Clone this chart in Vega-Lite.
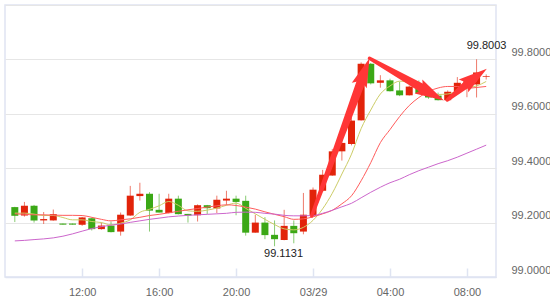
{
  "$schema": "https://vega.github.io/schema/vega-lite/v6.json",
  "width": 491,
  "height": 272,
  "autosize": {"type": "none"},
  "padding": {"left": 5, "top": 5, "right": 54, "bottom": 23},
  "background": "white",
  "config": {
    "view": {"stroke": "#dfe4f2", "strokeWidth": 1.5},
    "font": "Liberation Sans"
  },
  "datasets": {
    "candles": [
      {"t": "2024-03-28T08:30", "open": 99.257, "high": 99.258, "low": 99.202, "close": 99.225, "ma5": 99.2348, "ma10": 99.2323, "ma30": 99.1327},
      {"t": "2024-03-28T09:00", "open": 99.226, "high": 99.276, "low": 99.222, "close": 99.262, "ma5": 99.2348, "ma10": 99.2304, "ma30": 99.1346},
      {"t": "2024-03-28T09:30", "open": 99.262, "high": 99.265, "low": 99.2, "close": 99.208, "ma5": 99.2312, "ma10": 99.2286, "ma30": 99.1375},
      {"t": "2024-03-28T10:00", "open": 99.208, "high": 99.239, "low": 99.195, "close": 99.213, "ma5": 99.226, "ma10": 99.2286, "ma30": 99.1401},
      {"t": "2024-03-28T10:30", "open": 99.208, "high": 99.248, "low": 99.207, "close": 99.231, "ma5": 99.226, "ma10": 99.2275, "ma30": 99.1438},
      {"t": "2024-03-28T11:00", "open": 99.1965, "high": 99.1965, "low": 99.1925, "close": 99.1925, "ma5": 99.2186, "ma10": 99.2267, "ma30": 99.15},
      {"t": "2024-03-28T11:30", "open": 99.1965, "high": 99.1965, "low": 99.1925, "close": 99.1925, "ma5": 99.2101, "ma10": 99.2267, "ma30": 99.1585},
      {"t": "2024-03-28T12:00", "open": 99.192, "high": 99.221, "low": 99.188, "close": 99.219, "ma5": 99.2101, "ma10": 99.226, "ma30": 99.1685},
      {"t": "2024-03-28T12:30", "open": 99.216, "high": 99.219, "low": 99.171, "close": 99.176, "ma5": 99.2039, "ma10": 99.2194, "ma30": 99.1781},
      {"t": "2024-03-28T13:00", "open": 99.176, "high": 99.2, "low": 99.174, "close": 99.189, "ma5": 99.2002, "ma10": 99.212, "ma30": 99.1851},
      {"t": "2024-03-28T13:30", "open": 99.189, "high": 99.204, "low": 99.164, "close": 99.165, "ma5": 99.1917, "ma10": 99.2064, "ma30": 99.1906},
      {"t": "2024-03-28T14:00", "open": 99.167, "high": 99.237, "low": 99.152, "close": 99.229, "ma5": 99.198, "ma10": 99.2101, "ma30": 99.1947},
      {"t": "2024-03-28T14:30", "open": 99.226, "high": 99.335, "low": 99.225, "close": 99.299, "ma5": 99.2101, "ma10": 99.2138, "ma30": 99.2009},
      {"t": "2024-03-28T15:00", "open": 99.2975, "high": 99.3465, "low": 99.281, "close": 99.306, "ma5": 99.2378, "ma10": 99.2194, "ma30": 99.2064},
      {"t": "2024-03-28T15:30", "open": 99.306, "high": 99.312, "low": 99.167, "close": 99.244, "ma5": 99.2488, "ma10": 99.226, "ma30": 99.212},
      {"t": "2024-03-28T16:00", "open": 99.247, "high": 99.306, "low": 99.237, "close": 99.237, "ma5": 99.2618, "ma10": 99.2304, "ma30": 99.2164},
      {"t": "2024-03-28T16:30", "open": 99.235, "high": 99.306, "low": 99.234, "close": 99.288, "ma5": 99.2776, "ma10": 99.2359, "ma30": 99.2212},
      {"t": "2024-03-28T17:00", "open": 99.288, "high": 99.299, "low": 99.23, "close": 99.231, "ma5": 99.2636, "ma10": 99.2415, "ma30": 99.2241},
      {"t": "2024-03-28T17:30", "open": 99.232, "high": 99.232, "low": 99.2, "close": 99.226, "ma5": 99.2433, "ma10": 99.247, "ma30": 99.2267},
      {"t": "2024-03-28T18:00", "open": 99.227, "high": 99.267, "low": 99.204, "close": 99.264, "ma5": 99.2415, "ma10": 99.2518, "ma30": 99.2286},
      {"t": "2024-03-28T18:30", "open": 99.264, "high": 99.265, "low": 99.231, "close": 99.253, "ma5": 99.2459, "ma10": 99.257, "ma30": 99.2304},
      {"t": "2024-03-28T19:00", "open": 99.252, "high": 99.299, "low": 99.235, "close": 99.284, "ma5": 99.2533, "ma10": 99.2618, "ma30": 99.2323},
      {"t": "2024-03-28T19:30", "open": 99.281, "high": 99.317, "low": 99.264, "close": 99.288, "ma5": 99.2636, "ma10": 99.2654, "ma30": 99.2341},
      {"t": "2024-03-28T20:00", "open": 99.288, "high": 99.299, "low": 99.227, "close": 99.276, "ma5": 99.2717, "ma10": 99.2629, "ma30": 99.2378},
      {"t": "2024-03-28T20:30", "open": 99.28, "high": 99.299, "low": 99.152, "close": 99.163, "ma5": 99.2525, "ma10": 99.257, "ma30": 99.2385},
      {"t": "2024-03-28T21:00", "open": 99.163, "high": 99.229, "low": 99.163, "close": 99.2, "ma5": 99.2323, "ma10": 99.2496, "ma30": 99.2378},
      {"t": "2024-03-28T21:30", "open": 99.2, "high": 99.22, "low": 99.139, "close": 99.154, "ma5": 99.212, "ma10": 99.2396, "ma30": 99.2341},
      {"t": "2024-03-28T22:00", "open": 99.155, "high": 99.208, "low": 99.1131, "close": 99.139, "ma5": 99.1928, "ma10": 99.2304, "ma30": 99.2312},
      {"t": "2024-03-28T22:30", "open": 99.136, "high": 99.247, "low": 99.135, "close": 99.188, "ma5": 99.177, "ma10": 99.2219, "ma30": 99.2267},
      {"t": "2024-03-28T23:00", "open": 99.188, "high": 99.208, "low": 99.124, "close": 99.161, "ma5": 99.1733, "ma10": 99.212, "ma30": 99.2249},
      {"t": "2024-03-28T23:30", "open": 99.167, "high": 99.309, "low": 99.157, "close": 99.229, "ma5": 99.1825, "ma10": 99.2138, "ma30": 99.2249},
      {"t": "2024-03-29T00:00", "open": 99.225, "high": 99.329, "low": 99.225, "close": 99.321, "ma5": 99.2083, "ma10": 99.2212, "ma30": 99.226},
      {"t": "2024-03-29T00:30", "open": 99.317, "high": 99.394, "low": 99.312, "close": 99.376, "ma5": 99.2507, "ma10": 99.2323, "ma30": 99.2341},
      {"t": "2024-03-29T01:00", "open": 99.373, "high": 99.471, "low": 99.372, "close": 99.462, "ma5": 99.3078, "ma10": 99.2452, "ma30": 99.2452},
      {"t": "2024-03-29T01:30", "open": 99.462, "high": 99.514, "low": 99.428, "close": 99.493, "ma5": 99.3786, "ma10": 99.2691, "ma30": 99.2581},
      {"t": "2024-03-29T02:00", "open": 99.489, "high": 99.597, "low": 99.484, "close": 99.575, "ma5": 99.4516, "ma10": 99.2986, "ma30": 99.271},
      {"t": "2024-03-29T02:30", "open": 99.576, "high": 99.789, "low": 99.575, "close": 99.784, "ma5": 99.5456, "ma10": 99.3539, "ma30": 99.2912},
      {"t": "2024-03-29T03:00", "open": 99.784, "high": 99.787, "low": 99.708, "close": 99.712, "ma5": 99.6138, "ma10": 99.4203, "ma30": 99.3115},
      {"t": "2024-03-29T03:30", "open": 99.714, "high": 99.742, "low": 99.696, "close": 99.723, "ma5": 99.6728, "ma10": 99.494, "ma30": 99.33},
      {"t": "2024-03-29T04:00", "open": 99.723, "high": 99.729, "low": 99.682, "close": 99.683, "ma5": 99.7023, "ma10": 99.5419, "ma30": 99.3465},
      {"t": "2024-03-29T04:30", "open": 99.686, "high": 99.718, "low": 99.665, "close": 99.668, "ma5": 99.72, "ma10": 99.5899, "ma30": 99.3594},
      {"t": "2024-03-29T05:00", "open": 99.668, "high": 99.704, "low": 99.667, "close": 99.7, "ma5": 99.7141, "ma10": 99.6304, "ma30": 99.376},
      {"t": "2024-03-29T05:30", "open": 99.702, "high": 99.723, "low": 99.675, "close": 99.676, "ma5": 99.6957, "ma10": 99.6599, "ma30": 99.3908},
      {"t": "2024-03-29T06:00", "open": 99.677, "high": 99.69, "low": 99.655, "close": 99.66, "ma5": 99.6831, "ma10": 99.682, "ma30": 99.4037},
      {"t": "2024-03-29T06:30", "open": 99.667, "high": 99.678, "low": 99.649, "close": 99.65, "ma5": 99.671, "ma10": 99.6949, "ma30": 99.4166},
      {"t": "2024-03-29T07:00", "open": 99.65, "high": 99.686, "low": 99.649, "close": 99.681, "ma5": 99.6728, "ma10": 99.7005, "ma30": 99.4276},
      {"t": "2024-03-29T07:30", "open": 99.683, "high": 99.735, "low": 99.682, "close": 99.714, "ma5": 99.6831, "ma10": 99.7005, "ma30": 99.4406},
      {"t": "2024-03-29T08:00", "open": 99.696, "high": 99.735, "low": 99.661, "close": 99.726, "ma5": 99.6949, "ma10": 99.694, "ma30": 99.4553},
      {"t": "2024-03-29T08:30", "open": 99.708, "high": 99.8003, "low": 99.66, "close": 99.752, "ma5": 99.7023, "ma10": 99.6968, "ma30": 99.47},
      {"t": "2024-03-29T09:00", "open": 99.7355, "high": 99.745, "low": 99.726, "close": 99.738, "ma5": 99.7189, "ma10": 99.7005, "ma30": 99.4848}
    ],
    "arrows": [
      {"arrow": "a1", "t": "2024-03-28T23:56", "v": 99.2249, "end": 0},
      {"arrow": "a1", "t": "2024-03-29T02:35", "v": 99.7347, "end": 1},
      {"arrow": "a2", "t": "2024-03-29T02:56", "v": 99.804, "end": 0},
      {"arrow": "a2", "t": "2024-03-29T05:55", "v": 99.6846, "end": 1},
      {"arrow": "a3", "t": "2024-03-29T06:58", "v": 99.6507, "end": 0},
      {"arrow": "a3", "t": "2024-03-29T08:18", "v": 99.7263, "end": 1}
    ],
    "heads": [
      {"arrow": "a1", "t": "2024-03-29T02:56", "v": 99.804},
      {"arrow": "a2", "t": "2024-03-29T06:48", "v": 99.6489},
      {"arrow": "a3", "t": "2024-03-29T09:02", "v": 99.7657}
    ],
    "extremes": [
      {"kind": "max", "t": "2024-03-29T08:30", "v": 99.8003, "label": "99.8003"},
      {"kind": "min", "t": "2024-03-28T22:00", "v": 99.1131, "label": "99.1131"}
    ]
  },
  "encoding": {
    "x": {
      "field": "t",
      "type": "temporal",
      "title": null,
      "scale": {
        "domain": [
          {"year": 2024, "month": 3, "date": 28, "hours": 8, "minutes": 15},
          {"year": 2024, "month": 3, "date": 29, "hours": 9, "minutes": 15}
        ]
      },
      "axis": {
        "values": [
          {"year": 2024, "month": 3, "date": 28, "hours": 12},
          {"year": 2024, "month": 3, "date": 28, "hours": 16},
          {"year": 2024, "month": 3, "date": 28, "hours": 20},
          {"year": 2024, "month": 3, "date": 29, "hours": 0},
          {"year": 2024, "month": 3, "date": 29, "hours": 4},
          {"year": 2024, "month": 3, "date": 29, "hours": 8}
        ],
        "labelExpr": "hours(datum.value) == 0 ? timeFormat(datum.value, '%m/%d') : timeFormat(datum.value, '%H:%M')",
        "title": null,
        "grid": false,
        "domain": true,
        "domainColor": "#dfe4f2",
        "domainWidth": 1.5,
        "ticks": true,
        "tickColor": "#dfe4f2",
        "tickSize": -9,
        "tickWidth": 1.5,
        "labelPadding": 18,
        "labelFontSize": 11,
        "labelColor": "#666666",
        "labelFlush": false,
        "labelOverlap": false
      }
    }
  },
  "layer": [
    {
      "data": {"name": "candles"},
      "mark": {"type": "rule", "strokeWidth": 1, "opacity": 0.6},
      "encoding": {
        "y": {
          "field": "low",
          "type": "quantitative",
          "title": null,
          "scale": {"domain": [99, 100], "nice": false, "zero": false},
          "axis": {
            "orient": "right",
            "values": [99, 99.2, 99.4, 99.6, 99.8, 100],
            "labelExpr": "datum.value >= 99.99 ? '' : format(datum.value, '.4f')",
            "title": null,
            "grid": true,
            "gridColor": "#e6e6e6",
            "gridWidth": 1,
            "domain": false,
            "ticks": false,
            "labelPadding": 15,
            "labelFontSize": 11,
            "labelColor": "#666666",
            "labelBaseline": "alphabetic",
            "labelOffset": -4
          }
        },
        "y2": {"field": "high"},
        "color": {"condition": {"test": "datum.close > datum.open", "value": "#e2230a"}, "value": "#3ba816"}
      }
    },
    {
      "data": {"name": "candles"},
      "mark": {"type": "bar", "size": 7},
      "encoding": {
        "y": {"field": "open", "type": "quantitative", "title": null},
        "y2": {"field": "close"},
        "color": {"condition": {"test": "datum.close > datum.open", "value": "#e2230a"}, "value": "#3ba816"}
      }
    },
    {
      "data": {"name": "candles"},
      "mark": {"type": "line", "color": "#cccc66", "strokeWidth": 1, "interpolate": "monotone"},
      "encoding": {"y": {"field": "ma5", "type": "quantitative", "title": null}}
    },
    {
      "data": {"name": "candles"},
      "mark": {"type": "line", "color": "#ff5c5c", "strokeWidth": 1, "interpolate": "monotone"},
      "encoding": {"y": {"field": "ma10", "type": "quantitative", "title": null}}
    },
    {
      "data": {"name": "candles"},
      "mark": {"type": "line", "color": "#cc66cc", "strokeWidth": 1, "interpolate": "monotone"},
      "encoding": {"y": {"field": "ma30", "type": "quantitative", "title": null}}
    },
    {
      "data": {"name": "arrows"},
      "mark": {"type": "trail", "color": "#ff3636"},
      "encoding": {
        "y": {"field": "v", "type": "quantitative", "title": null},
        "detail": {"field": "arrow", "type": "nominal"},
        "size": {"field": "end", "type": "quantitative", "scale": {"domain": [0, 1], "range": [3.5, 9]}, "legend": null}
      }
    },
    {
      "data": {"name": "heads"},
      "transform": [{"filter": "datum.arrow == 'a1'"}],
      "mark": {"type": "point", "filled": true, "opacity": 1, "color": "#ff3636", "strokeWidth": 0, "shape": "M0,0L-0.55,2L0,1.65L0.55,2Z", "size": 841, "angle": 20.6},
      "encoding": {"y": {"field": "v", "type": "quantitative", "title": null}}
    },
    {
      "data": {"name": "heads"},
      "transform": [{"filter": "datum.arrow == 'a2'"}],
      "mark": {"type": "point", "filled": true, "opacity": 1, "color": "#ff3636", "strokeWidth": 0, "shape": "M0,0L-0.55,2L0,1.65L0.55,2Z", "size": 841, "angle": 118.9},
      "encoding": {"y": {"field": "v", "type": "quantitative", "title": null}}
    },
    {
      "data": {"name": "heads"},
      "transform": [{"filter": "datum.arrow == 'a3'"}],
      "mark": {"type": "point", "filled": true, "opacity": 1, "color": "#ff3636", "strokeWidth": 0, "shape": "M0,0L-0.55,2L0,1.65L0.55,2Z", "size": 841, "angle": 53.6},
      "encoding": {"y": {"field": "v", "type": "quantitative", "title": null}}
    },
    {
      "data": {"name": "extremes"},
      "transform": [{"filter": "datum.kind == 'max'"}],
      "mark": {"type": "text", "fontSize": 11, "color": "#222222", "align": "center", "baseline": "alphabetic", "dx": 10, "dy": -10},
      "encoding": {
        "y": {"field": "v", "type": "quantitative", "title": null},
        "text": {"field": "label", "type": "nominal"}
      }
    },
    {
      "data": {"name": "extremes"},
      "transform": [{"filter": "datum.kind == 'min'"}],
      "mark": {"type": "text", "fontSize": 11, "color": "#222222", "align": "center", "baseline": "top", "dx": 9, "dy": 2},
      "encoding": {
        "y": {"field": "v", "type": "quantitative", "title": null},
        "text": {"field": "label", "type": "nominal"}
      }
    }
  ]
}
